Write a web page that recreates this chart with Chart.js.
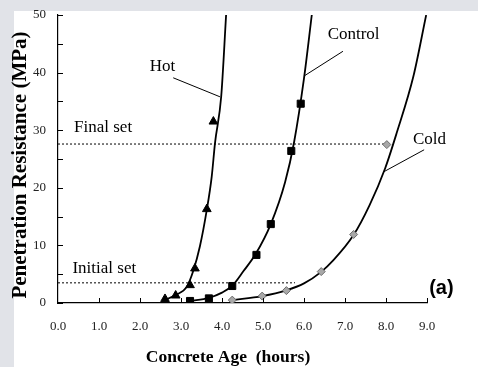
<!DOCTYPE html>
<html>
<head>
<meta charset="utf-8">
<script src="https://cdn.jsdelivr.net/npm/chart.js@4/dist/chart.umd.min.js"></script>
<style>
    body { margin: 0; background: #e1e3e8; }
    #panel { position: absolute; left: 14px; top: 11px; right: 0; bottom: 0; background: #fff; }
    #wrap { position: absolute; left: 0; top: 0; width: 478px; height: 367px; }
</style>
</head>
<body>
<div id="panel"></div>
<div id="wrap"><canvas id="js--chart"></canvas></div>
<script>
// measured points (markers)
const hotAge = [2.61, 2.87, 3.22, 3.34, 3.63, 3.79];
const hotResistance = [0.7, 1.3, 3.1, 6.0, 16.3, 31.5];
const controlAge = [3.22, 3.68, 4.25, 4.84, 5.19, 5.69, 5.92];
const controlResistance = [0.35, 0.8, 2.95, 8.35, 13.7, 26.4, 34.6];
const coldAge = [4.25, 4.98, 5.57, 6.42, 7.21, 8.02];
const coldResistance = [0.5, 1.2, 2.15, 5.45, 11.9, 27.5];

// fitted curves
const hotCurveAge = [2.6, 2.87, 3.14, 3.3, 3.46, 3.63, 3.75, 3.83, 3.98, 4.1];
const hotCurveResistance = [0.5, 1.4, 2.8, 5.6, 9.8, 16.2, 22, 27.8, 35.8, 50];
const controlCurveAge = [3.22, 3.68, 4.0, 4.25, 4.52, 4.82, 5.19, 5.54, 5.76, 6.0, 6.19];
const controlCurveResistance = [0.35, 0.9, 1.8, 3.0, 5.5, 8.5, 13.7, 21, 28, 39, 50];
const coldCurveAge = [4.25, 4.98, 5.57, 6.0, 6.42, 6.7, 7.2, 7.6, 7.98, 8.26, 8.67, 8.98];
const coldCurveResistance = [0.5, 1.2, 2.2, 3.4, 5.4, 7.3, 11.7, 17.0, 23.4, 29.5, 39.4, 50];

// set limits
const initialSet = 3.5;
const finalSet = 27.6;
const initialSetEnd = 5.78;
const finalSetEnd = 8.02;

const xTicks = [0, 1, 2, 3, 4, 5, 6, 7, 8, 9];
const yTicks = [0, 10, 20, 30, 40, 50];
const yMinorTicks = [5, 15, 25, 35, 45];

// callout labels: [text, x, y] and leader lines
const labels = [
    ["Hot", 2.55, 41.1],
    ["Control", 7.21, 46.6],
    ["Cold", 9.06, 28.35],
    ["Final set", 1.10, 30.4],
    ["Initial set", 1.13, 6.03],
];
const hotLeader = [[2.81, 39.1], [3.95, 35.8]];
const controlLeader = [[6.95, 43.7], [6.0, 39.4]];
const coldLeader = [[8.93, 26.6], [7.95, 22.8]];

const xTitle = "Concrete Age  (hours)";
const yTitle = "Penetration Resistance (MPa)";

function toPoints(xs, ys) {
    return xs.map(function (x, i) { return { x: x, y: ys[i] }; });
}
function pairPoints(pairs) {
    return pairs.map(function (p) { return { x: p[0], y: p[1] }; });
}

function markerSet(xs, ys, style, radius, fill, border) {
    return {
        data: toPoints(xs, ys),
        showLine: false,
        pointStyle: style,
        pointRadius: radius,
        pointBackgroundColor: fill,
        pointBorderColor: border,
        pointBorderWidth: 1,
    };
}
function curveSet(xs, ys) {
    return {
        data: toPoints(xs, ys),
        borderColor: "#000",
        borderWidth: 1.8,
        pointRadius: 0,
        cubicInterpolationMode: "monotone",
    };
}
function thinLine(points, dash) {
    return {
        data: pairPoints(points),
        borderColor: "#000",
        borderWidth: 1,
        borderDash: dash,
        pointRadius: 0,
    };
}

const extras = {
    id: "extras",
    afterDraw: function (chart) {
        const ctx = chart.ctx;
        const xs = chart.scales.x;
        const ys = chart.scales.y;
        ctx.save();
        // inward tick marks
        ctx.strokeStyle = "#000";
        ctx.lineWidth = 1;
        ctx.beginPath();
        xTicks.slice(1).forEach(function (v) {
            const px = Math.round(xs.getPixelForValue(v)) + 0.5;
            ctx.moveTo(px, ys.bottom);
            ctx.lineTo(px, ys.bottom - 5);
        });
        yTicks.concat(yMinorTicks).forEach(function (v) {
            const py = Math.round(ys.getPixelForValue(v)) + 0.5;
            ctx.moveTo(xs.left, py);
            ctx.lineTo(xs.left + 5, py);
        });
        ctx.stroke();

        // callouts
        ctx.fillStyle = "#000";
        ctx.textAlign = "center";
        ctx.textBaseline = "middle";
        ctx.font = "17px 'Liberation Serif'";
        labels.forEach(function (l) {
            ctx.fillText(l[0], xs.getPixelForValue(l[1]), ys.getPixelForValue(l[2]));
        });
        ctx.font = "bold 20px 'Liberation Sans'";
        ctx.fillText("(a)", xs.getPixelForValue(9.35), ys.getPixelForValue(2.56));

        // axis titles
        ctx.font = "bold 17.5px 'Liberation Serif'";
        ctx.fillText(xTitle, 228, 357);
        ctx.translate(21, 165);
        ctx.rotate(-Math.PI / 2);
        ctx.font = "bold 21px 'Liberation Serif'";
        ctx.fillText(yTitle, 0, 0);
        ctx.restore();
    }
};

const data = {
    datasets: [
        markerSet(hotAge, hotResistance, "triangle", 5, "#000", "#000"),
        markerSet(controlAge, controlResistance, "rect", 5, "#000", "#000"),
        markerSet(coldAge, coldResistance, "rectRot", 4, "#a8a8a8", "#6e6e6e"),
        curveSet(hotCurveAge, hotCurveResistance),
        curveSet(controlCurveAge, controlCurveResistance),
        curveSet(coldCurveAge, coldCurveResistance),
        thinLine([[0, finalSet], [finalSetEnd, finalSet]], [2, 2]),
        thinLine([[0, initialSet], [initialSetEnd, initialSet]], [2, 2]),
        thinLine(hotLeader, []),
        thinLine(controlLeader, []),
        thinLine(coldLeader, []),
    ]
};

const config = {
    type: "scatter",
    data: data,
    plugins: [extras],
    options: {
        responsive: false,
        animation: false,
        showLine: true,
        layout: { padding: { top: 15, right: 51, left: 0, bottom: 0 } },
        plugins: { legend: { display: false }, tooltip: { enabled: false } },
        scales: {
            x: {
                type: "linear",
                min: 0,
                max: 9,
                grid: { display: false, drawTicks: false },
                border: { display: true, color: "#000", width: 1.2 },
                ticks: {
                    stepSize: 1,
                    padding: 16,
                    color: "#222",
                    font: { family: "'Liberation Serif'", size: 13 },
                    callback: function (v) { return v.toFixed(1); }
                },
                afterFit: function (scale) {
                    scale.height = 64;
                    scale.paddingLeft = 0;
                    scale.paddingRight = 0;
                }
            },
            y: {
                min: 0,
                max: 50,
                grid: { display: false, drawTicks: false },
                border: { display: true, color: "#000", width: 1.2 },
                ticks: {
                    stepSize: 10,
                    padding: 12,
                    color: "#222",
                    font: { family: "'Liberation Serif'", size: 13 }
                },
                afterFit: function (scale) {
                    scale.width = 58;
                    scale.paddingTop = 0;
                    scale.paddingBottom = 0;
                }
            }
        }
    }
};

const canvas = document.getElementById("js--chart");
canvas.width = 478;
canvas.height = 367;
new Chart(canvas, config);
</script>
</body>
</html>
